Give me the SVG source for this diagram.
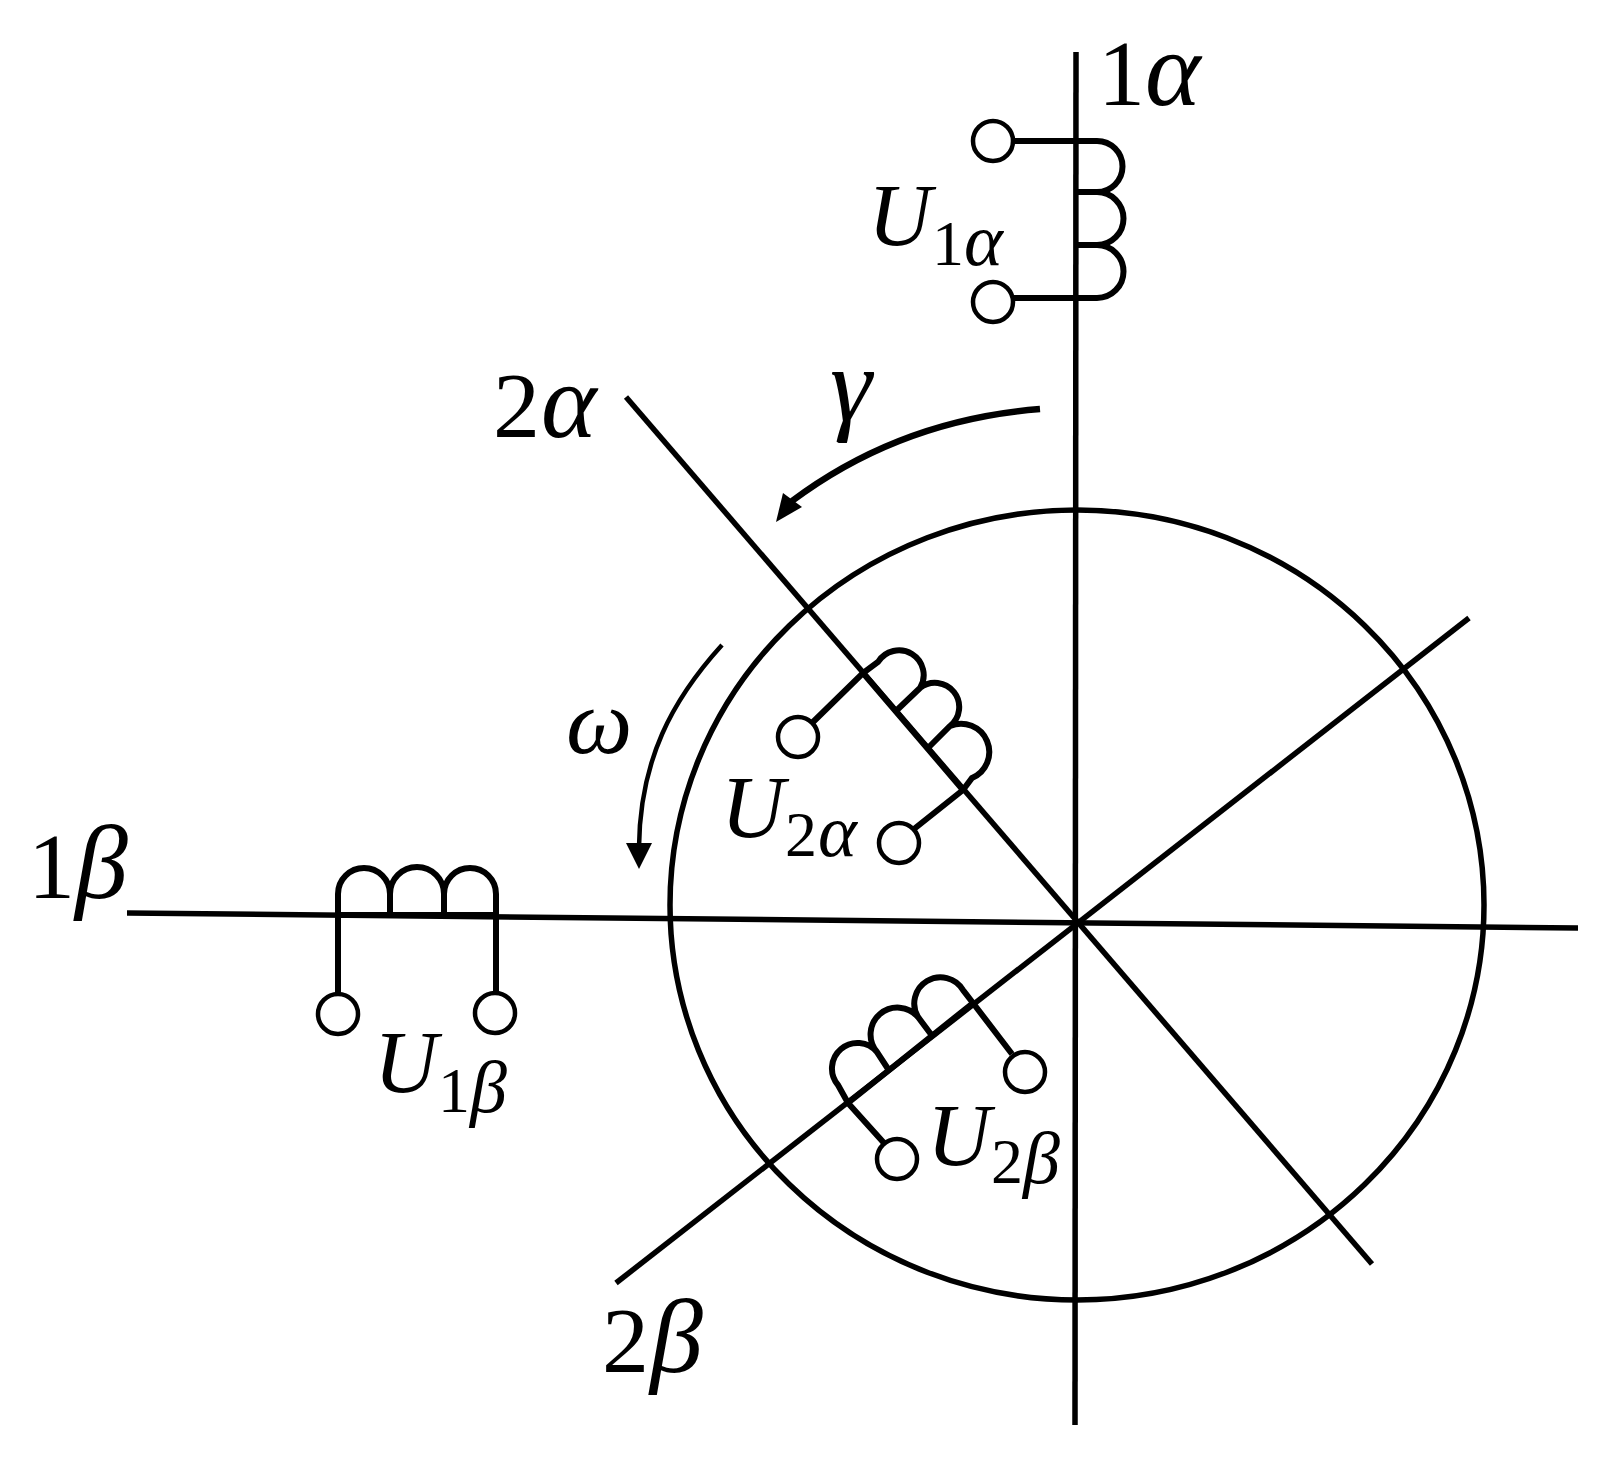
<svg xmlns="http://www.w3.org/2000/svg" width="1615" height="1461" viewBox="0 0 1615 1461">
<style>
.l{fill:none;stroke:#000;stroke-width:5.5;stroke-linecap:butt;stroke-linejoin:round}
.t{fill:#fff;stroke:#000;stroke-width:4.5}
.c{fill:none;stroke:#000;stroke-width:6}
text{font-family:"Liberation Serif","DejaVu Serif",serif;fill:#000}
.b{font-size:94px}
.u{font-size:88px;font-style:italic}
.s{font-size:64px;font-style:normal}
.g{font-size:74px;font-style:italic}
.a{font-size:106px;font-style:italic}
.w{font-size:94px;font-style:italic}
</style>
<rect width="1615" height="1461" fill="#fff"/>
<g id="connectors">
<ellipse class="l" cx="1077" cy="905" rx="407" ry="395"/>
<path class="l" d="M1076 52L1075 1425"/>
<path class="l" d="M127 913L1578 928"/>
<path class="l" d="M626 397L1372 1264"/>
<path class="l" d="M616 1283L1469 618"/>
<path d="M1040 409Q900 420 792 501" fill="none" stroke="#000" stroke-width="6.5"/>
<polygon points="776,522 783,493 802,507" fill="#000"/>
<path d="M722 645C672 700 640 760 639 847" fill="none" stroke="#000" stroke-width="4.5"/>
<polygon points="626,843 652,843 639,869" fill="#000"/>
</g>
<g id="coil-1a">
<path class="c" d="M1013 141H1097A20 20 0 0 1 1097 192H1076M1097 192A20 20 0 0 1 1097 245H1076M1097 245A20 20 0 0 1 1097 298H1013"/>
<circle class="t" cx="993" cy="141" r="20"/>
<circle class="t" cx="993" cy="302" r="20"/>
<text x="1098" y="105"><tspan class="b">1</tspan><tspan class="a" x="1145">α</tspan></text>
<text class="u" x="868" y="245">U<tspan class="s" x="932" y="265">1</tspan><tspan class="g" x="964" y="265">α</tspan></text>
</g>
<g id="coil-1b">
<path class="c" d="M338 994V894A20 20 0 0 1 390 894V916M390 894A20 20 0 0 1 444 894V916M444 894A20 20 0 0 1 496 894L496 993M338 915H496"/>
<circle class="t" cx="338" cy="1014" r="20"/>
<circle class="t" cx="495" cy="1013" r="20"/>
<text x="28" y="898"><tspan class="b">1</tspan><tspan class="a" x="75">β</tspan></text>
<text class="u" x="374" y="1092">U<tspan class="s" x="438" y="1112">1</tspan><tspan class="g" x="470" y="1112">β</tspan></text>
</g>
<g id="coil-2a">
<path class="c" d="M812 723L863 673L878 662A20 20 0 0 1 920 688L897 710M920 688A20 20 0 0 1 950 726L928 748M950 726A20 20 0 0 1 972 778L963 790L914 829M863 673L963 790"/>
<circle class="t" cx="798" cy="737" r="20"/>
<circle class="t" cx="899" cy="843" r="20"/>
<text class="u" x="721" y="837">U<tspan class="s" x="785" y="856">2</tspan><tspan class="g" x="818" y="856">α</tspan></text>
</g>
<g id="coil-2b">
<path class="c" d="M884 1143L848 1103L838 1085A20 20 0 0 1 877 1052L890 1072M877 1052A20 20 0 0 1 918 1017L933 1037M918 1017A20 20 0 0 1 963 990L973 1003L1012 1054M848 1103L973 1003"/>
<circle class="t" cx="1025" cy="1072" r="20"/>
<circle class="t" cx="897" cy="1159" r="20"/>
<text class="u" x="927" y="1165">U<tspan class="s" x="991" y="1183">2</tspan><tspan class="g" x="1023" y="1183">β</tspan></text>
</g>
<g id="labels">
<text x="493" y="437"><tspan class="b">2</tspan><tspan class="a" x="541">α</tspan></text>
<text class="a" x="830" y="420">γ</text>
<text class="w" x="566" y="753">ω</text>
<text x="602" y="1372"><tspan class="b">2</tspan><tspan class="a" x="650">β</tspan></text>
</g>
</svg>
